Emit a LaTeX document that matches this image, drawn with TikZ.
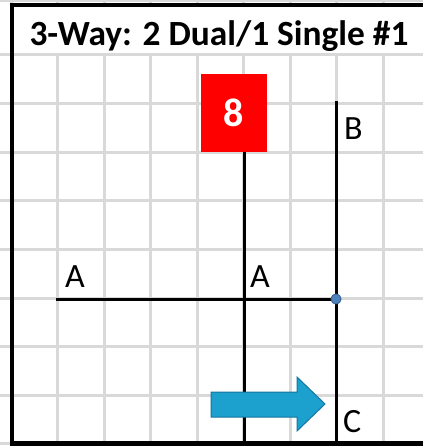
\documentclass[tikz,border=0pt]{standalone}
\usepackage{fontspec}
\setmainfont{Carlito}
\definecolor{gridgray}{RGB}{217,217,217}
\definecolor{arrowblue}{RGB}{28,160,206}
\definecolor{arrowedge}{RGB}{22,118,158}
\definecolor{dotblue}{RGB}{79,129,189}
\definecolor{dotedge}{RGB}{60,100,150}
\begin{document}
\begin{tikzpicture}[x=1pt,y=-1pt,
  gridline/.style={gridgray,line width=3pt},
  border/.style={black,line width=4.5pt},
  wire/.style={black,line width=3pt},
  lbl/.style={font=\fontsize{34}{34}\selectfont,anchor=base west,inner sep=0pt},
  badge/.style={fill=red,text=white,font=\bfseries\fontsize{40}{40}\selectfont,minimum width=66pt,minimum height=78pt,inner sep=0pt},
  flowarrow/.style={fill=arrowblue,draw=arrowedge,line width=1pt,line join=miter},
  junction/.style={circle,fill=dotblue,draw=dotedge,line width=0.8pt,minimum size=10pt,inner sep=0pt}
]
\useasboundingbox (0,0) rectangle (423,446);
% grid
\foreach \k in {0,...,9} \draw[gridline] ({11+46.5*\k},0) -- ({11+46.5*\k},446);
\foreach \k in {0,...,8} \draw[gridline] (0,{55+48.6*\k}) -- (423,{55+48.6*\k});
\draw[gridline,line width=2pt] (0,1) -- (423,1);
% title cell
\fill[white] (13.5,7) rectangle (423,53.5);
\node[font=\bfseries\fontsize{35.4}{36}\selectfont,anchor=base,inner sep=0pt] (title) at (219,46) {3-Way: 2 Dual/1 Single \#1};
% borders
\draw[border] (9.5,5) -- (423,5);
\draw[border] (12,3) -- (12,446);
\draw[border] (9.5,443.5) -- (423,443.5);
% badge
\node[badge] (n8) at (234,113) {8};
% coordinates
\coordinate (vbot) at (244,442);
\coordinate (btop) at (336,101);
\coordinate (bbot) at (336,442);
\coordinate (aleft) at (56,299);
\node[junction] (dot) at (336,299) {};
% wires
\draw[wire] (vbot |- n8.south) -- (vbot);
\draw[wire] (btop) -- (bbot);
\draw[wire] (aleft) -- (dot.center);
\node[junction] at (dot) {};
% labels
\node[lbl] (la1) at (65,287) {A};
\node[lbl] (la2) at (250,287) {A};
\node[lbl] (lb) at (344,140) {B};
\node[lbl] (lc) at (343,432) {C};
% arrow
\draw[flowarrow] (211,392) -- (297,392) -- (297,377) -- (325,404) -- (297,431) -- (297,417) -- (211,417) -- cycle;
\end{tikzpicture}
\end{document}
